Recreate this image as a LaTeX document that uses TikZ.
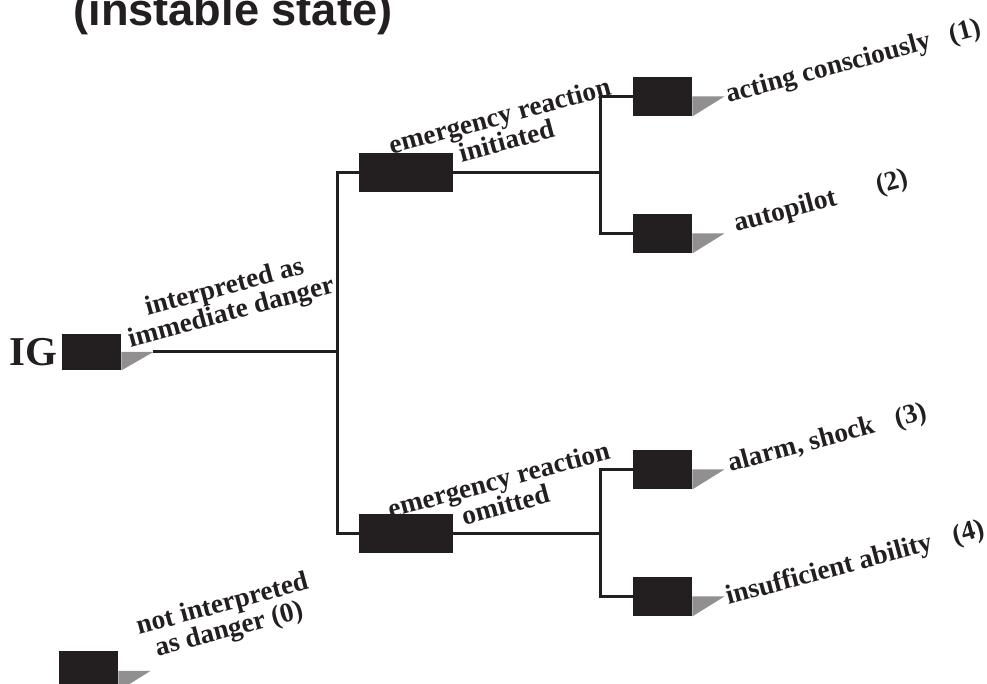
\documentclass[tikz,border=0pt]{standalone}
\usepackage{fontspec}
\setmainfont{Liberation Serif}
\setsansfont{Liberation Sans}
\usepackage{tikz}
\usetikzlibrary{positioning}

\definecolor{ink}{HTML}{231F20}

% dotted wedge below the right half of a box, its tip is named <box>tip
\newcommand{\wedgetail}[1]{\fill[tail] (#1.east) -- ++(32,0) coordinate (#1tip) -- (#1.south east) -- cycle;}

\begin{document}
\begin{tikzpicture}[x=0.5pt, y=-0.5pt,
            box/.style={rectangle, fill=ink, inner sep=0pt, minimum width=29.5pt, minimum height=19.5pt},
            longbox/.style={box, minimum width=47pt},
            tail/.style={fill=ink!50},
            branch/.style={draw=ink, line width=1.5pt},
            lbl/.style={font=\bfseries\fontsize{13.7}{13}\selectfont, text=ink, rotate=15, inner sep=0pt},
            twolbl/.style={lbl, align=center}]

        \useasboundingbox (0,0) rectangle (987,684);

        \node[font=\sffamily\bfseries\fontsize{22.6}{27}\selectfont, text=ink, anchor=base west, inner sep=0pt] (title) at (73,26) {(instable state)};

        \node[box, minimum height=18pt] (IG) at (91.5,352) {};
        \node[font=\bfseries\fontsize{20.5}{24}\selectfont, text=ink, anchor=base east, inner sep=0pt] (IGname) at (58,366) {IG};
        \node[longbox] (init) at (406,172.5) {};
        \node[longbox] (omit) at (406,534) {};
        \node[box] (A) at (662.5,96.5) {};
        \node[box] (B) at (662.5,233.5) {};
        \node[box] (C) at (662.5,469.5) {};
        \node[box] (D) at (662.5,596.5) {};
        \node[box] (E) at (88.5,671) {};

        \wedgetail{IG}
        \wedgetail{A}
        \wedgetail{B}
        \wedgetail{C}
        \wedgetail{D}
        \wedgetail{E}

        \coordinate (s1) at (337,352);
        \coordinate (s2) at (600,172.5);
        \coordinate (s3) at (600,534);

        \draw[branch] (IGtip) -- (s1);
        \draw[branch] (init.west) -| (s1) |- (omit.west);
        \draw[branch] (init.east) -- (s2);
        \draw[branch] (A.west) -| (s2) |- (B.west);
        \draw[branch] (omit.east) -- (s3);
        \draw[branch] (C.west) -| (s3) |- (D.west);

        \node[twolbl] (danger) at (228,301) {interpreted as\\immediate danger};
        \node[twolbl] (initlbl) at (503,128) {emergency reaction\\initiated};
        \node[twolbl] (omitlbl) at (502,492) {emergency reaction\\omitted};
        \node[twolbl] (nodanger) at (226,618) {not interpreted\\as danger (0)};

        \node[lbl, anchor=base west] (Alabel) at (728,103) {acting consciously\hspace{10pt}(1)};
        \node[lbl, anchor=base west] (Blabel) at (736,232) {autopilot\hspace{21pt}(2)};
        \node[lbl, anchor=base west] (Clabel) at (730,472) {alarm, shock\hspace{11pt}(3)};
        \node[lbl, anchor=base west] (Dlabel) at (728,605) {insufficient ability\hspace{11pt}(4)};

    \end{tikzpicture}
\end{document}
